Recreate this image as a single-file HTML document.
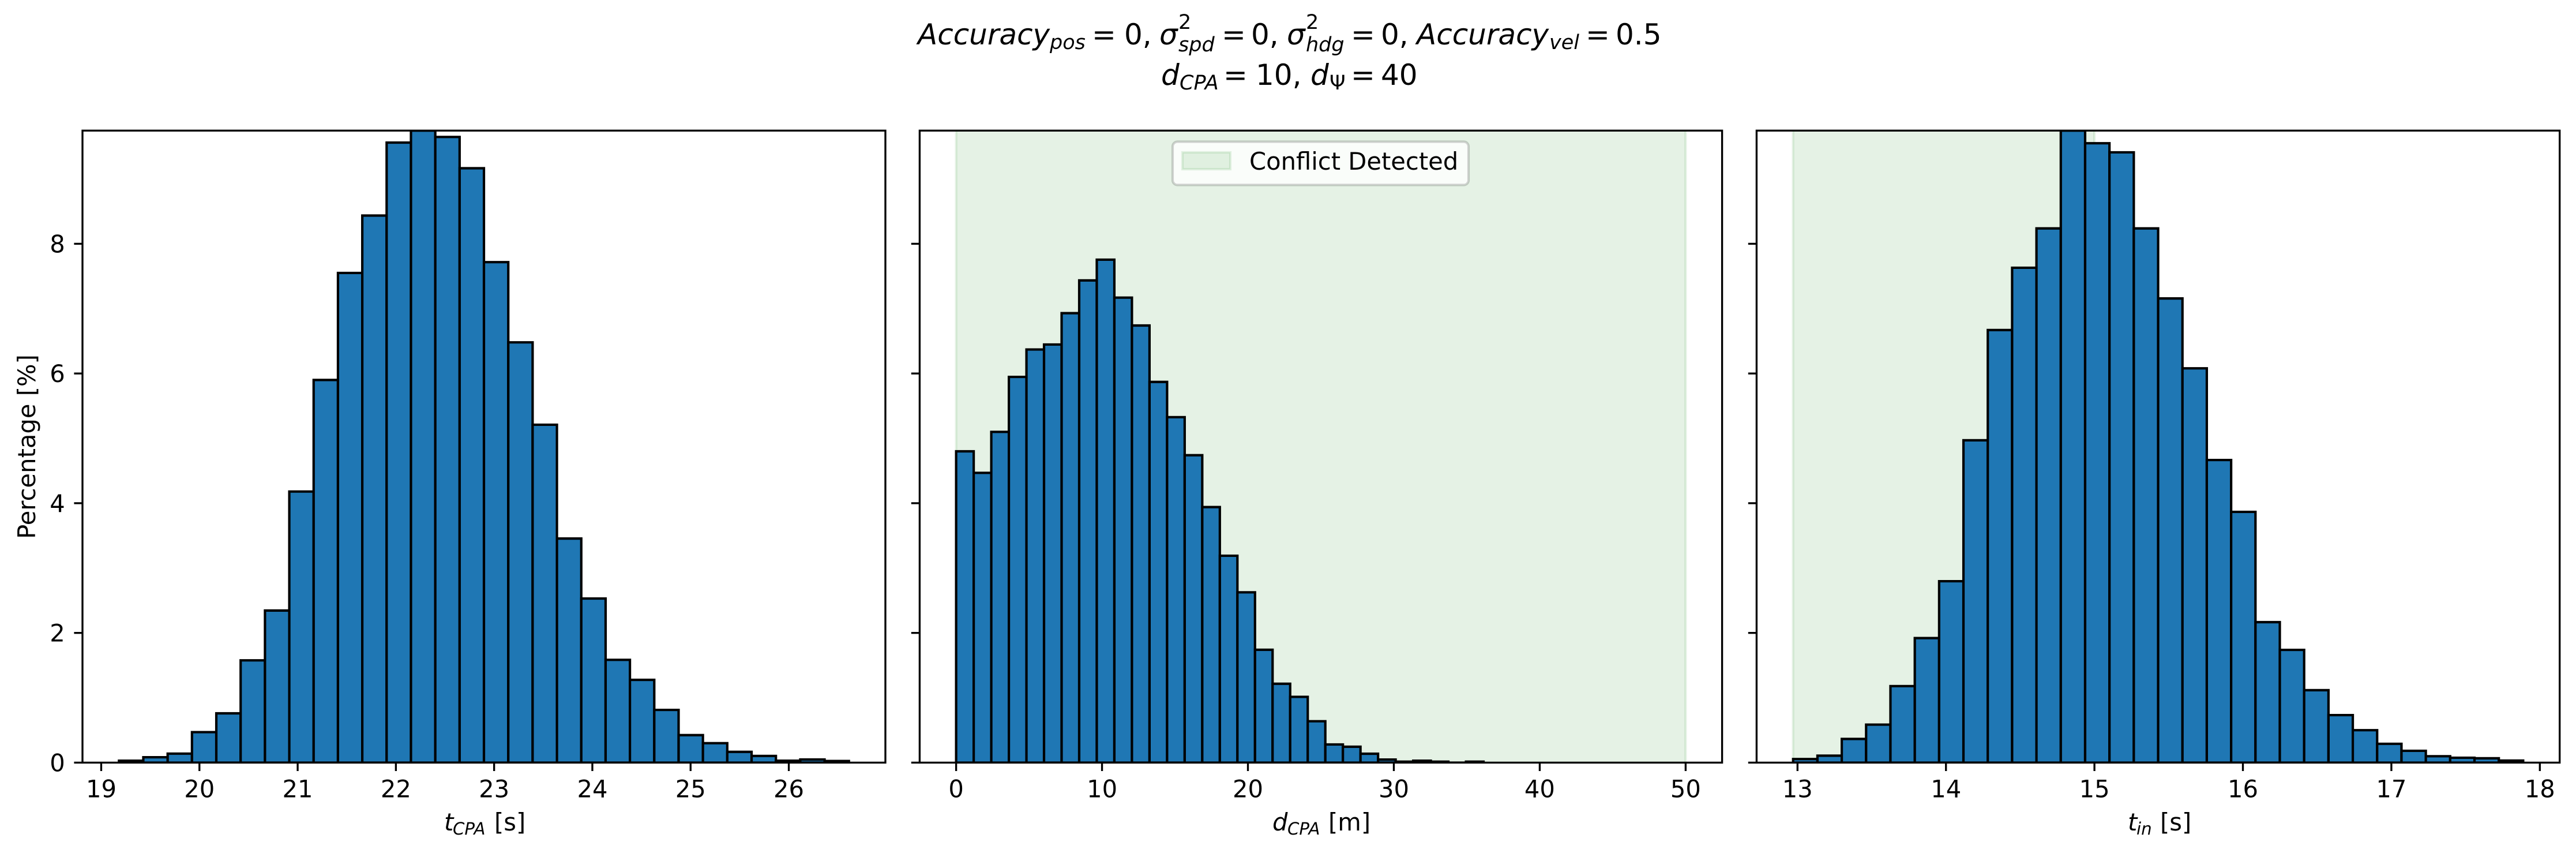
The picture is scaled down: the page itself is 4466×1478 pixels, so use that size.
<!DOCTYPE html>
<html lang="en">
<head>
<meta charset="utf-8">
<title>Histograms of t_CPA, d_CPA and t_in</title>
<style>
html,body{margin:0;padding:0;background:#fff;width:4466px;height:1478px;overflow:hidden}
svg{display:block}
text{font-family:"DejaVu Sans","Liberation Sans",sans-serif;fill:#000;white-space:pre}
.it{font-style:italic}
</style>
</head>
<body>
<svg id="figure" xmlns="http://www.w3.org/2000/svg" width="4466" height="1478" viewBox="0 0 4466 1478">
  <rect width="4466" height="1478" fill="#fff"/>
  <g>
    <text font-size="50"><tspan class="it" x="1591" y="77">Accuracy</tspan><tspan class="it" font-size="35" x="1820" y="85">pos</tspan><tspan x="1893" y="77">=</tspan><tspan x="1949" y="77">0,</tspan><tspan class="it" x="2010" y="77">σ</tspan><tspan font-size="35" x="2043" y="50">2</tspan><tspan class="it" font-size="35" x="2043" y="89">spd</tspan><tspan x="2118" y="77">=</tspan><tspan x="2169" y="77">0,</tspan><tspan class="it" x="2231" y="77">σ</tspan><tspan font-size="35" x="2264" y="50">2</tspan><tspan class="it" font-size="35" x="2264" y="89">hdg</tspan><tspan x="2342" y="77">=</tspan><tspan x="2394" y="77">0,</tspan><tspan class="it" x="2456" y="77">Accuracy</tspan><tspan class="it" font-size="35" x="2686" y="85">vel</tspan><tspan x="2749" y="77">=</tspan><tspan x="2801" y="77">0.5</tspan></text>
    <text font-size="50"><tspan class="it" x="2013" y="147">d</tspan><tspan class="it" font-size="35" x="2045" y="155">CPA</tspan><tspan x="2121" y="147">=</tspan><tspan x="2177" y="147">10,</tspan><tspan class="it" x="2272" y="147">d</tspan><tspan font-size="35" x="2305" y="155">Ψ</tspan><tspan x="2342" y="147">=</tspan><tspan x="2394" y="147">40</tspan></text>
  </g>
  <g id="panels"></g>
  <text font-size="41.67" text-anchor="middle" transform="translate(61 774) rotate(-90)">Percentage [%]</text>
  <text font-size="41.67"><tspan class="it" x="770" y="1439">t</tspan><tspan class="it" font-size="29.2" x="785" y="1446">CPA</tspan><tspan x="857" y="1439">[s]</tspan></text>
  <text font-size="41.67"><tspan class="it" x="2206" y="1439">d</tspan><tspan class="it" font-size="29.2" x="2232" y="1446">CPA</tspan><tspan x="2303" y="1439">[m]</tspan></text>
  <text font-size="41.67"><tspan class="it" x="3689" y="1439">t</tspan><tspan class="it" font-size="29.2" x="3704" y="1446">in</tspan><tspan x="3745" y="1439">[s]</tspan></text>
  <g>
    <rect x="2033" y="245.5" width="513" height="75" rx="8.3" ry="8.3" fill="#fff" fill-opacity="0.8" stroke="#000" stroke-opacity="0.17" stroke-width="4.17"/>
    <rect x="2050" y="264" width="83" height="29.2" fill="#008000" fill-opacity="0.1" stroke="#008000" stroke-opacity="0.1" stroke-width="4.17"/>
    <text x="2166" y="294" font-size="41.67">Conflict Detected</text>
  </g>
</svg>
<script>
// Series values: percentage of samples per histogram bin
const tcpaPercent = [0.03,0.083,0.139,0.47,0.76,1.577,2.345,4.18,5.90,7.55,8.435,9.56,9.745,9.647,9.165,7.717,6.48,5.21,3.455,2.53,1.585,1.276,0.813,0.424,0.30,0.166,0.103,0.03,0.048,0.025];
const dcpaPercent = [4.80,4.468,5.10,5.947,6.37,6.447,6.93,7.435,7.755,7.17,6.74,5.87,5.327,4.74,3.94,3.19,2.626,1.74,1.216,1.014,0.638,0.28,0.245,0.137,0.047,0.015,0.03,0.015,0,0.015];
const tinPercent = [0.055,0.107,0.365,0.586,1.18,1.92,2.797,4.97,6.67,7.63,8.237,9.745,9.55,9.41,8.237,7.157,6.08,4.666,3.866,2.166,1.738,1.117,0.733,0.50,0.29,0.182,0.099,0.075,0.067,0.032];

// Histogram bins (data units)
const tcpaBinStart = 19.181;
const tcpaBinWidth = 0.2477;
const dcpaBinStart = 0;
const dcpaBinWidth = 1.205;
const tinBinStart = 12.9704;
const tinBinWidth = 0.16391;

// Conflict-detected spans (data units)
const dcpaConflictSpan = [0, 50];
const tinConflictSpan = [12.97, 15];

// Axis limits
const percentLimits = [0, 9.745];
const tcpaLimits = [18.8094, 26.9833];
const dcpaLimits = [-2.5, 52.5];
const tinLimits = [12.7245, 18.1336];

// Tick labels
const percentTicks = [0, 2, 4, 6, 8];
const tcpaTicks = [19, 20, 21, 22, 23, 24, 25, 26];
const dcpaTicks = [0, 10, 20, 30, 40, 50];
const tinTicks = [13, 14, 15, 16, 17, 18];

const NS = 'http://www.w3.org/2000/svg';
const plotTop = 226.3;
const plotBottom = 1321.4;
const tickLength = 14.6;
const tickWidth = 3.33;
const tickFont = 41.67;

function make(tag, attrs, parent) {
  const el = document.createElementNS(NS, tag);
  for (const k in attrs) el.setAttribute(k, attrs[k]);
  parent.appendChild(el);
  return el;
}

function yScale(v) {
  return plotBottom - (v - percentLimits[0]) / (percentLimits[1] - percentLimits[0]) * (plotBottom - plotTop);
}

function drawPanel(key, left, right, limits, binStart, binWidth, values, xTicks, span, showYLabels) {
  const xScale = function (v) {
    return left + (v - limits[0]) / (limits[1] - limits[0]) * (right - left);
  };
  const root = document.getElementById('panels');
  const g = make('g', {}, root);
  
  

  const clip = make('clipPath', { id: 'clip-' + key }, g);
  make('rect', { x: left, y: plotTop, width: right - left, height: plotBottom - plotTop }, clip);

  const plot = make('g', { 'clip-path': 'url(#clip-' + key + ')' }, g);
  
  

  if (span) {
    const s = make('rect', {
      x: xScale(span[0]), y: plotTop - 10,
      width: xScale(span[1]) - xScale(span[0]), height: plotBottom - plotTop + 20,
      fill: '#008000', 'fill-opacity': 0.1, stroke: '#008000', 'stroke-opacity': 0.1, 'stroke-width': 4.17
    }, plot);
    
    
  }

  values.forEach(function (v, i) {
    const x0 = xScale(binStart + i * binWidth);
    const x1 = xScale(binStart + (i + 1) * binWidth);
    const y0 = yScale(0);
    const y1 = yScale(v);
    const bar = make('path', {
      d: 'M' + x0 + ' ' + y0 + 'V' + y1 + 'H' + x1 + 'V' + y0 + 'Z',
      fill: '#1f77b4', stroke: '#000', 'stroke-width': 4.17, 'stroke-linejoin': 'miter'
    }, plot);
    
    
  });

  const frame = make('rect', {
    x: left, y: plotTop, width: right - left, height: plotBottom - plotTop,
    fill: 'none', stroke: '#000', 'stroke-width': tickWidth
  }, g);
  
  

  xTicks.forEach(function (t) {
    const px = xScale(t);
    const tick = make('line', {
      x1: px, x2: px, y1: plotBottom, y2: plotBottom + tickLength,
      stroke: '#000', 'stroke-width': tickWidth
    }, g);
    
    
    const label = make('text', {
      x: px, y: plotBottom + 60, 'font-size': tickFont, 'text-anchor': 'middle'
    }, g);
    label.textContent = String(t);
    
    
  });

  percentTicks.forEach(function (t) {
    const py = yScale(t);
    const tick = make('line', {
      x1: left, x2: left - tickLength, y1: py, y2: py,
      stroke: '#000', 'stroke-width': tickWidth
    }, g);
    
    
    if (showYLabels) {
      const label = make('text', {
        x: left - 2 * tickLength - 1, y: py + 15, 'font-size': tickFont, 'text-anchor': 'end'
      }, g);
      label.textContent = String(t);
      
      
    }
  });
}

drawPanel('tcpa', 143, 1535, tcpaLimits, tcpaBinStart, tcpaBinWidth, tcpaPercent, tcpaTicks, null, true);
drawPanel('dcpa', 1594.4, 2985.6, dcpaLimits, dcpaBinStart, dcpaBinWidth, dcpaPercent, dcpaTicks, dcpaConflictSpan, false);
drawPanel('tin', 3045.4, 4437.7, tinLimits, tinBinStart, tinBinWidth, tinPercent, tinTicks, tinConflictSpan, false);
</script>
</body>
</html>
